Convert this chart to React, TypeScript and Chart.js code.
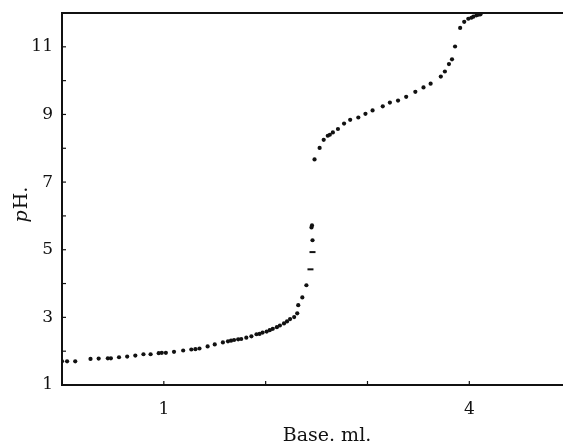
import React, { useEffect, useRef } from "react";
import { Chart, registerables } from "chart.js";

Chart.register(...registerables);

// Base added (ml) and measured pH
const baseMl = [
  0.0, 0.05, 0.13, 0.28, 0.36, 0.45, 0.48, 0.56, 0.64, 0.72, 0.8, 0.87, 0.95, 0.98,
  1.02, 1.1, 1.19, 1.27, 1.31, 1.35, 1.43, 1.5, 1.58, 1.63, 1.66, 1.69, 1.73, 1.76,
  1.81, 1.86, 1.91, 1.94, 1.97, 2.01, 2.04, 2.07, 2.11, 2.14, 2.18, 2.21, 2.24, 2.28,
  2.31, 2.32, 2.36, 2.4, 2.44, 2.46, 2.46, 2.45, 2.455, 2.48, 2.53, 2.57, 2.61, 2.63,
  2.66, 2.71, 2.77, 2.83, 2.91, 2.98, 3.05, 3.15, 3.22, 3.3, 3.38, 3.47, 3.55, 3.62,
  3.72, 3.76, 3.8, 3.83, 3.86, 3.91, 3.95, 3.99, 4.02, 4.04, 4.07, 4.09, 4.11,
];
const phValues = [
  1.7, 1.7, 1.7, 1.77, 1.78, 1.79, 1.79, 1.82, 1.84, 1.87, 1.91, 1.91, 1.94, 1.95,
  1.95, 1.98, 2.02, 2.05, 2.06, 2.08, 2.14, 2.2, 2.26, 2.29, 2.31, 2.33, 2.35, 2.36,
  2.4, 2.44, 2.5, 2.51, 2.55, 2.58, 2.62, 2.66, 2.71, 2.76, 2.82, 2.88, 2.95, 3.01,
  3.12, 3.36, 3.59, 3.95, 4.42, 4.93, 5.28, 5.66, 5.72, 7.67, 8.01, 8.25, 8.37, 8.4,
  8.47, 8.57, 8.73, 8.84, 8.91, 9.02, 9.12, 9.24, 9.35, 9.41, 9.52, 9.67, 9.8, 9.91,
  10.12, 10.27, 10.49, 10.63, 11.01, 11.56, 11.74, 11.83, 11.86, 11.89, 11.93, 11.95, 11.96,
];
// readings printed as short dashes rather than dots
const dashReadings = [4.42, 4.93];

const xTickValues = [1, 2, 3, 4];
const xTickLabels = ["1", "", "", "4"];
const yTickValues = [1, 2, 3, 4, 5, 6, 7, 8, 9, 10, 11];
const yTickLabels = ["1", "", "3", "", "5", "", "7", "", "9", "", "11"];

const xTitle = "Base. ml.";
const yTitleItalic = "p";
const yTitleRest = "H.";

const FONT = "'DejaVu Serif', 'Liberation Serif', serif";
const INK = "#111";

const framePlugin = {
  id: "frame",
  afterDraw(chart: any) {
    const { ctx, chartArea } = chart;
    const xs = chart.scales.x;
    const ys = chart.scales.y;
    ctx.save();
    ctx.strokeStyle = INK;
    ctx.lineWidth = 2;
    // top border
    ctx.beginPath();
    ctx.moveTo(chartArea.left, chartArea.top);
    ctx.lineTo(chartArea.right, chartArea.top);
    ctx.stroke();
    // inward tick marks
    ctx.lineWidth = 1.2;
    yTickValues.forEach((v) => {
      const py = ys.getPixelForValue(v);
      ctx.beginPath();
      ctx.moveTo(chartArea.left, py);
      ctx.lineTo(chartArea.left + 4, py);
      ctx.stroke();
    });
    xTickValues.forEach((v) => {
      const px = xs.getPixelForValue(v);
      ctx.beginPath();
      ctx.moveTo(px, chartArea.bottom);
      ctx.lineTo(px, chartArea.bottom - 4);
      ctx.stroke();
    });
    // axis titles
    ctx.fillStyle = INK;
    ctx.textBaseline = "middle";
    ctx.textAlign = "center";
    ctx.font = `19px ${FONT}`;
    ctx.fillText(xTitle, 327, 436);
    ctx.translate(22, 205);
    ctx.rotate(-Math.PI / 2);
    ctx.textAlign = "left";
    ctx.font = `italic 19px ${FONT}`;
    const wP = ctx.measureText(yTitleItalic).width;
    ctx.font = `19px ${FONT}`;
    const wR = ctx.measureText(yTitleRest).width;
    const start = -(wP + wR) / 2;
    ctx.font = `italic 19px ${FONT}`;
    ctx.fillText(yTitleItalic, start, 0);
    ctx.font = `19px ${FONT}`;
    ctx.fillText(yTitleRest, start + wP + 1, 0);
    ctx.restore();
  },
};

export default function App() {
  const ref = useRef<HTMLCanvasElement | null>(null);
  useEffect(() => {
    if (!ref.current) return;
    const points = baseMl.map((x, i) => ({ x, y: phValues[i] }));
    const chart = new Chart(ref.current, {
      type: "scatter",
      data: {
        datasets: [
          {
            data: points,
            backgroundColor: INK,
            borderColor: INK,
            pointRadius: (c: any) => (dashReadings.includes(phValues[c.dataIndex]) ? 3 : 2.1),
            pointStyle: (c: any) => (dashReadings.includes(phValues[c.dataIndex]) ? "line" : "circle"),
            borderWidth: (c: any) => (dashReadings.includes(phValues[c.dataIndex]) ? 2 : 0),
          } as any,
        ],
      },
      options: {
        responsive: false,
        animation: false,
        devicePixelRatio: 1,
        layout: { padding: { top: 13, right: 0, left: 0, bottom: 0 } },
        plugins: { legend: { display: false }, tooltip: { enabled: false } },
        scales: {
          x: {
            type: "linear",
            min: 0,
            max: 4.92,
            grid: { display: false, drawTicks: false },
            border: { display: true, color: INK, width: 2 },
            afterBuildTicks: (s: any) => {
              s.ticks = xTickValues.map((v) => ({ value: v }));
            },
            afterFit: (s: any) => {
              s.height = 62;
              s.paddingLeft = 0;
              s.paddingRight = 0;
            },
            ticks: {
              autoSkip: false,
              maxRotation: 0,
              padding: 14,
              color: INK,
              font: { family: FONT, size: 17 },
              callback: (v: any) => xTickLabels[xTickValues.indexOf(Number(v))] ?? "",
            },
          },
          y: {
            type: "linear",
            min: 1,
            max: 12,
            grid: { display: false, drawTicks: false },
            border: { display: true, color: INK, width: 2 },
            afterBuildTicks: (s: any) => {
              s.ticks = yTickValues.map((v) => ({ value: v }));
            },
            afterFit: (s: any) => {
              s.width = 62;
              s.paddingTop = 0;
              s.paddingBottom = 0;
            },
            ticks: {
              autoSkip: false,
              padding: 9,
              color: INK,
              font: { family: FONT, size: 17 },
              callback: (v: any) => yTickLabels[yTickValues.indexOf(Number(v))] ?? "",
            },
          },
        },
      },
      plugins: [framePlugin],
    });
    return () => chart.destroy();
  }, []);
  return (
    <div
      style={{
        position: "absolute",
        left: 0,
        top: 0,
        width: 563,
        height: 447,
        overflow: "hidden",
        background: "#fff",
      }}
    >
      <canvas ref={ref} width={569} height={447} style={{ display: "block" }} />
    </div>
  );
}
